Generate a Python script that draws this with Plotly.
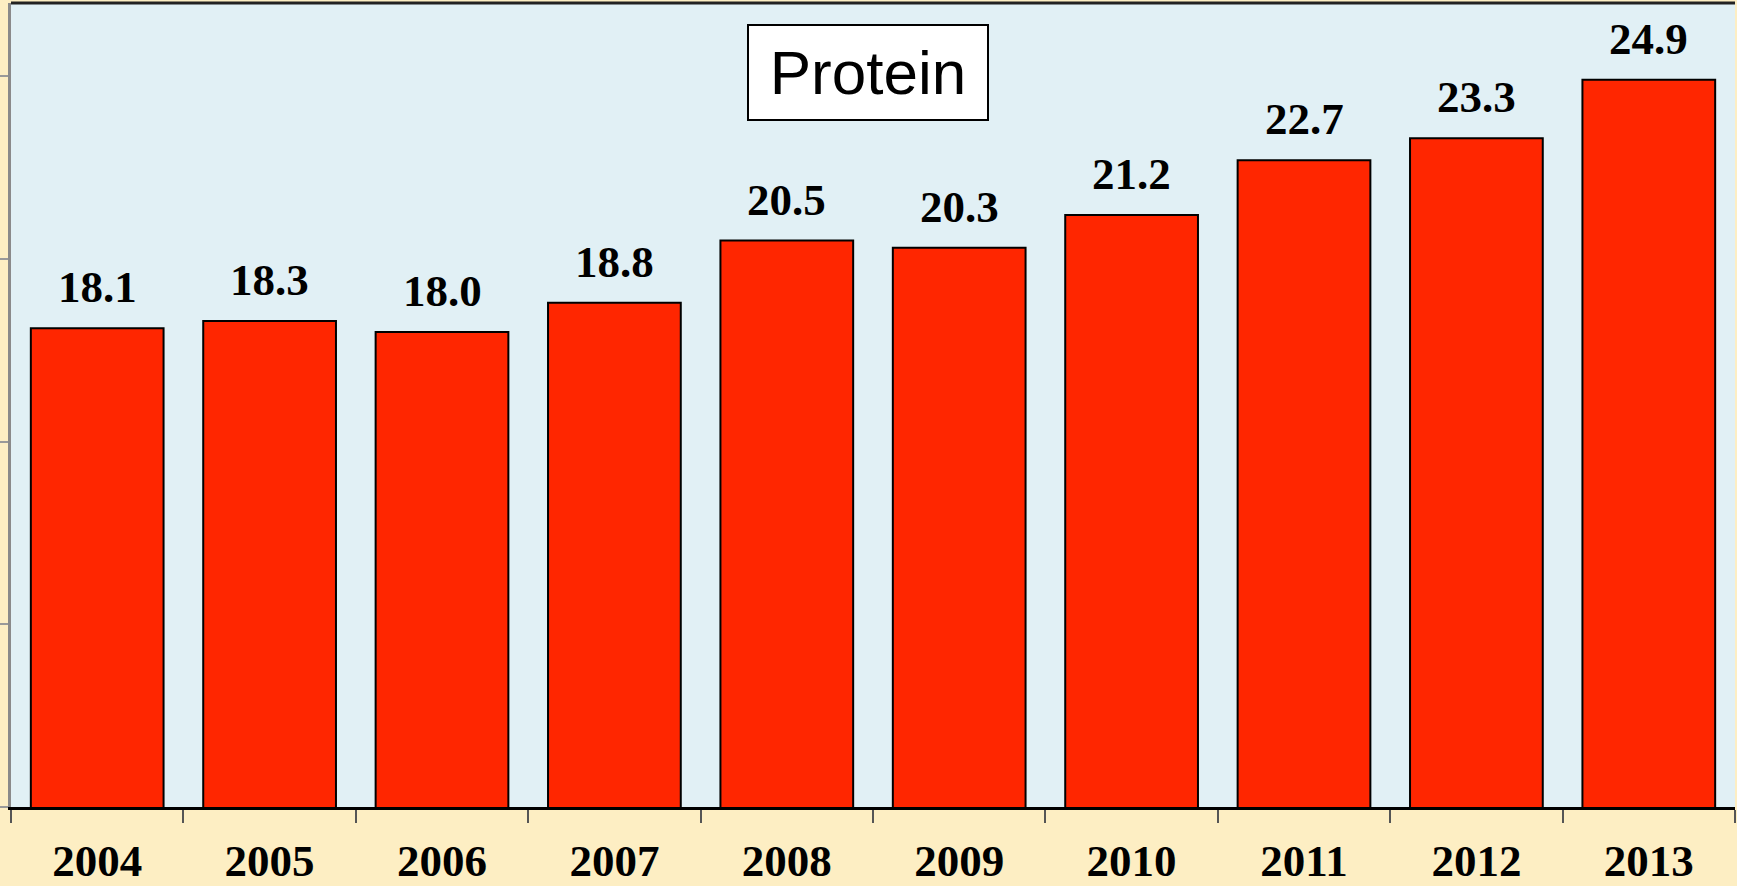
import plotly.graph_objects as go

years = ["2004", "2005", "2006", "2007", "2008", "2009", "2010", "2011", "2012", "2013"]
protein = [18.1, 18.3, 18.0, 18.8, 20.5, 20.3, 21.2, 22.7, 23.3, 24.9]
y_ticks = [5, 10, 15, 20, 25]

BAR_RED = "#FF2600"
PLOT_BLUE = "#E1F0F5"
PAPER_BEIGE = "#FDEEC3"
SERIF = "Liberation Serif, Times New Roman, serif"

fig = go.Figure()
fig.add_trace(go.Bar(
    x=years, y=protein,
    marker=dict(color=BAR_RED, line=dict(color="black", width=2)),
    hoverinfo="x+y",
))

# value labels above bars (category index positions)
for i, v in enumerate(protein):
    fig.add_annotation(
        x=i, y=v, text=f"{v:.1f}", showarrow=False,
        yanchor="bottom", yshift=14,
        font=dict(family=SERIF, size=45, color="black", weight="bold"),
    )

# boxed title inside the plot
fig.add_annotation(
    xref="paper", yref="paper", x=0.497, y=0.913,
    text="Protein", showarrow=False,
    font=dict(family="Liberation Sans, Arial, sans-serif", size=62, color="black"),
    bgcolor="white", bordercolor="black", borderwidth=2, borderpad=6,
    width=226, height=81,
    xanchor="center", yanchor="middle",
)

fig.update_layout(
    width=1737, height=886,
    paper_bgcolor=PAPER_BEIGE, plot_bgcolor=PLOT_BLUE,
    margin=dict(l=11, r=2, t=3, b=79),
    bargap=0.23,
    showlegend=False,
    xaxis=dict(
        type="category", ticks="outside", tickson="boundaries",
        ticklen=13, tickcolor="#555", tickwidth=1.5,
        showline=True, linecolor="black", linewidth=2.5,
        tickfont=dict(family=SERIF, size=45, color="black", weight="bold"),
        ticklabelstandoff=12,
        showgrid=False, automargin=False,
    ),
    yaxis=dict(
        range=[5, 27], tickvals=y_ticks, showticklabels=False,
        ticks="outside", ticklen=11, tickcolor="#999", tickwidth=2,
        showline=True, linecolor="#8a8a8a", linewidth=3,
        showgrid=False, zeroline=False, automargin=False,
    ),
    shapes=[dict(type="line", xref="paper", yref="paper", x0=0, x1=1, y0=1, y1=1,
                 line=dict(color="#222", width=3))],
)

# page has default body margin; drop it so the figure fills the window
fig.write_html("out.html", config={"displayModeBar": False},
               post_script="document.body.style.margin='0';")
